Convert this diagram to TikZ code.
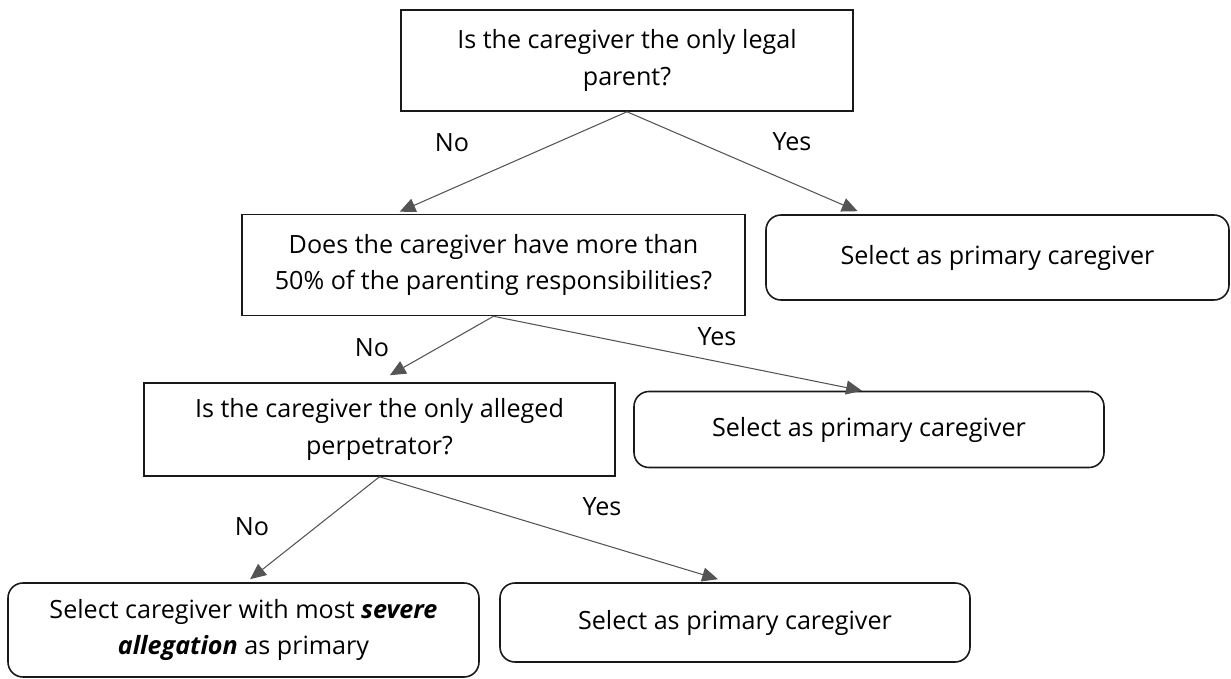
\documentclass[tikz,border=0pt]{standalone}
\usepackage{fontspec}
\setmainfont{Open Sans}
\usepackage{xcolor}
\usepackage{tikz}
\usetikzlibrary{calc, positioning, arrows.meta, shapes}
\definecolor{arrowgrey}{rgb}{0.33, 0.33, 0.33}
\definecolor{boxline}{rgb}{0.1, 0.1, 0.1}

\begin{document}
\begin{tikzpicture}[x=0.02cm, y=-0.02cm]
\tikzstyle{quest}=[rectangle, draw=boxline, line width=0.9pt, align=center, inner sep=0pt, font=\fontsize{14.3}{21}\selectfont]
\tikzstyle{pick}=[rectangle, rounded corners=0.3cm, draw=boxline, line width=0.9pt, align=center, inner sep=0pt, font=\fontsize{14.3}{21}\selectfont]
\tikzstyle{branch}=[draw=arrowgrey, line width=0.6pt, -{Triangle[length=9pt, width=8pt]}]
\tikzstyle{answer}=[font=\fontsize{14.3}{17}\selectfont, inner sep=0pt]
\useasboundingbox (0,0) rectangle (1231,679);
%%
\node (q1) at (627,60.5) [quest, minimum width=452*0.02cm, minimum height=101*0.02cm] {Is the caregiver the only legal\\parent?};
\node (q2) at (493.5,265) [quest, minimum width=503*0.02cm, minimum height=101*0.02cm] {Does the caregiver have more than\\50\% of the parenting responsibilities?};
\node (s1) at (997.5,257.5) [pick, minimum width=463*0.02cm, minimum height=85*0.02cm] {Select as primary caregiver};
\node (q3) at (379.5,429.5) [quest, minimum width=471*0.02cm, minimum height=93*0.02cm] {Is the caregiver the only alleged\\perpetrator?};
\node (s2) at (869,429.5) [pick, minimum width=470*0.02cm, minimum height=76*0.02cm] {Select as primary caregiver};
\node (s3) at (243.5,630) [pick, minimum width=471*0.02cm, minimum height=94*0.02cm] {Select caregiver with most \textbf{\textit{severe}}\\\textbf{\textit{allegation}} as primary};
\node (s4) at (735,622.5) [pick, minimum width=470*0.02cm, minimum height=79*0.02cm] {Select as primary caregiver};

\draw [branch] (q1.south) -- ($(q2.north west)!0.314!(q2.north east)+(0,-2)$);
\draw [branch] (q1.south) -- ($(s1.north west)!0.199!(s1.north east)+(0,-3)$);
\draw [branch] (q2.south) -- ($(q3.north west)!0.522!(q3.north east)+(0,-7)$);
\draw [branch] (q2.south) -- ($(s2.north west)!0.485!(s2.north east)$);
\draw [branch] (q3.south) -- ($(s3.north west)!0.514!(s3.north east)+(0,-3)$);
\draw [branch] (q3.south) -- ($(s4.north west)!0.464!(s4.north east)+(0,-3)$);

\node (n1) at (452,143) [answer] {No};
\node (y1) at (792,142) [answer] {Yes};
\node (n2) at (372,348) [answer] {No};
\node (y2) at (717,337) [answer] {Yes};
\node (n3) at (252,527) [answer] {No};
\node (y3) at (602,507) [answer] {Yes};
\end{tikzpicture}
\end{document}
